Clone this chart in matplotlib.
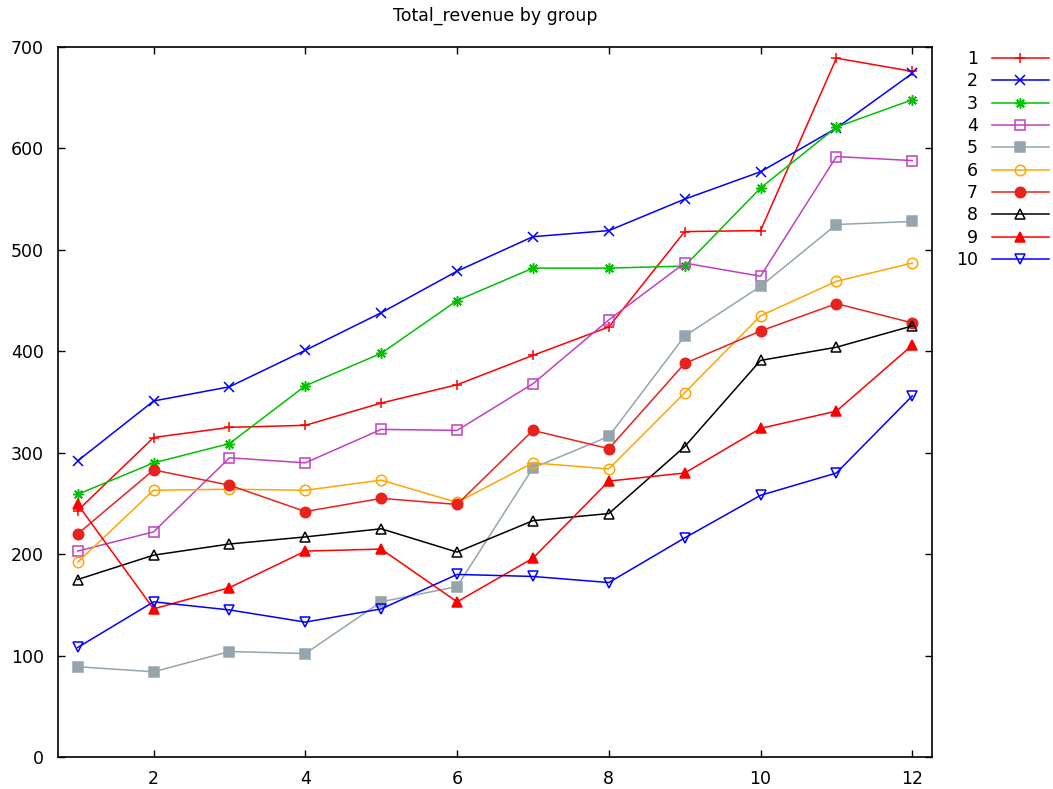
import matplotlib
matplotlib.use("Agg")
import matplotlib.pyplot as plt

# months on the x axis
months = [1, 2, 3, 4, 5, 6, 7, 8, 9, 10, 11, 12]

# total revenue per group
g1 = [243, 315, 325, 327, 349, 367, 396, 424, 518, 519, 689, 676]
g2 = [292, 351, 365, 401, 438, 479, 513, 519, 550, 577, 620, 674]
g3 = [259, 290, 309, 366, 398, 450, 482, 482, 484, 561, 621, 648]
g4 = [203, 222, 295, 290, 323, 322, 368, 431, 487, 474, 592, 588]
g5 = [89, 84, 104, 102, 153, 168, 285, 316, 415, 464, 525, 528]
g6 = [192, 263, 264, 263, 273, 251, 290, 284, 359, 435, 469, 487]
g7 = [220, 283, 268, 242, 255, 249, 322, 304, 388, 420, 447, 428]
g8 = [175, 199, 210, 217, 225, 202, 233, 240, 306, 391, 404, 425]
g9 = [249, 146, 167, 203, 205, 153, 196, 272, 280, 324, 341, 406]
g10 = [108, 153, 145, 133, 146, 180, 178, 172, 216, 258, 280, 356]

groups = ["1", "2", "3", "4", "5", "6", "7", "8", "9", "10"]
series = [g1, g2, g3, g4, g5, g6, g7, g8, g9, g10]

# gnuplot-like styles: (color, marker, filled)
styles = [
    ("#ff0000", "+", True),
    ("#0000ff", "x", True),
    ("#00c000", (8, 2, 0), True),
    ("#c040c0", "s", False),
    ("#94a5ad", "s", True),
    ("#ffa500", "o", False),
    ("#e8221c", "o", True),
    ("#000000", "^", False),
    ("#ff0000", "^", True),
    ("#0000ff", "v", False),
]

fig = plt.figure(figsize=(10.53, 7.89), dpi=100)
ax = fig.add_axes([58 / 1053, 32 / 789, 874 / 1053, 710 / 789])

for name, vals, (col, mk, filled) in zip(groups, series, styles):
    ax.plot(months, vals, color=col, linewidth=1.1, label=name,
            marker=mk, markersize=7.5, markeredgewidth=1.1,
            markerfacecolor=col if filled else "none", markeredgecolor=col)

ax.set_xlim(0.74, 12.26)
ax.set_ylim(0, 700)
ax.set_xticks([2, 4, 6, 8, 10, 12])
ax.set_yticks(range(0, 701, 100))
ax.tick_params(direction="in", top=True, right=True, length=5, width=1,
               labelsize=12.5, colors="#000000")
ax.tick_params(axis="x", pad=9)
ax.tick_params(axis="y", pad=10)
for s in ax.spines.values():
    s.set_linewidth(1.2)

ax.set_title("Total_revenue by group", fontsize=12.5, pad=19)

ax.legend(loc="upper right", bbox_to_anchor=(1049 / 1053, 1 - 50 / 789),
          bbox_transform=fig.transFigure, frameon=False, markerfirst=False,
          fontsize=12.5, handlelength=3.3, labelspacing=0.25, borderpad=0,
          borderaxespad=0, handletextpad=0.8)

fig.savefig("out.png", dpi=100)
